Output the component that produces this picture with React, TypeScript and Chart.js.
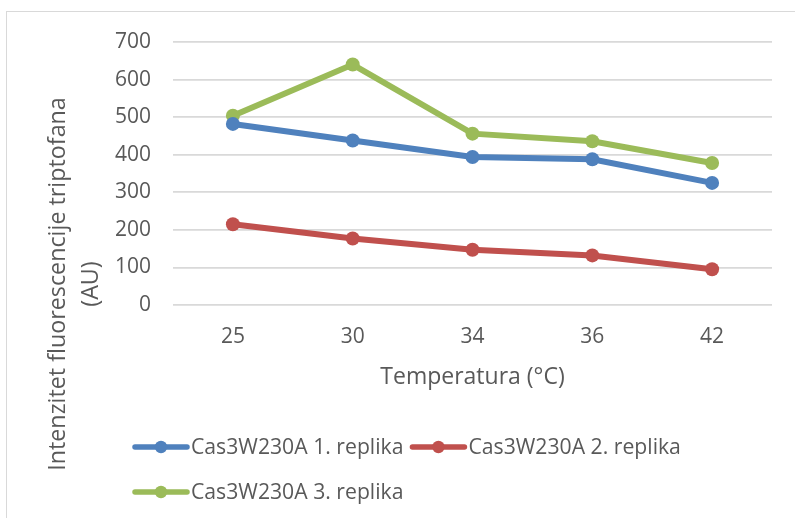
import React, { useEffect, useRef } from "react";
import { Chart, registerables } from "chart.js";

Chart.register(...registerables);

const categories = ["25", "30", "34", "36", "42"];
const seriesNames = [
  "Cas3W230A 1. replika",
  "Cas3W230A 2. replika",
  "Cas3W230A 3. replika",
];
const replika1 = [482, 438, 394, 388, 325];
const replika2 = [215, 177, 147, 132, 95];
const replika3 = [504, 640, 456, 436, 378];
const seriesColors = ["#4F81BD", "#C0504D", "#9BBB59"];
const yTitleLines = ["Intenzitet fluorescencije triptofana", "(AU)"];
const xTitle = "Temperatura (°C)";

const FONT = "'Open Sans', 'DejaVu Sans', sans-serif";
const TEXT = "#595959";

const yTitlePlugin = {
  id: "yTitle",
  afterDraw(chart: any) {
    const ctx = chart.ctx;
    ctx.save();
    ctx.fillStyle = TEXT;
    ctx.font = `23.3px ${FONT}`;
    ctx.textAlign = "center";
    ctx.textBaseline = "middle";
    ctx.translate(58, 284);
    ctx.rotate(-Math.PI / 2);
    yTitleLines.forEach((line, i) => ctx.fillText(line, 0, i * 33));
    ctx.restore();
  },
};

const legendPlugin = {
  id: "customLegend",
  afterDraw(chart: any) {
    const ctx = chart.ctx;
    ctx.save();
    ctx.font = `21.2px ${FONT}`;
    ctx.textBaseline = "middle";
    ctx.textAlign = "left";
    const startX = 133;
    const maxX = 700;
    let x = startX;
    let y = 447;
    chart.data.datasets.forEach((ds: any) => {
      const tw = ctx.measureText(ds.label).width;
      const itemW = 56 + 3 + tw;
      if (x !== startX && x + itemW > maxX) {
        x = startX;
        y += 45;
      }
      ctx.strokeStyle = ds.borderColor;
      ctx.lineWidth = 5.5;
      ctx.lineCap = "round";
      ctx.beginPath();
      ctx.moveTo(x + 2, y);
      ctx.lineTo(x + 54, y);
      ctx.stroke();
      ctx.fillStyle = ds.borderColor;
      ctx.beginPath();
      ctx.arc(x + 28, y, 6.2, 0, Math.PI * 2);
      ctx.fill();
      ctx.fillStyle = TEXT;
      ctx.fillText(ds.label, x + 58, y + 1);
      x += itemW + 6;
    });
    ctx.restore();
  },
};

export default function App() {
  const canvasRef = useRef<HTMLCanvasElement | null>(null);

  useEffect(() => {
    document.body.style.margin = "0";
    const canvas = canvasRef.current;
    if (!canvas) return;
    const data = [replika1, replika2, replika3];
    const chart = new Chart(canvas, {
      type: "line",
      data: {
        labels: categories,
        datasets: seriesNames.map((name, i) => ({
          label: name,
          data: data[i],
          borderColor: seriesColors[i],
          backgroundColor: seriesColors[i],
          pointBackgroundColor: seriesColors[i],
          pointBorderWidth: 0,
          pointRadius: 7,
          borderWidth: 6,
          tension: 0,
          fill: false,
        })),
      },
      options: {
        responsive: false,
        animation: false,
        devicePixelRatio: 1,
        layout: { padding: { left: 0, top: 42, right: 23, bottom: 127 } },
        plugins: {
          legend: { display: false },
          tooltip: { enabled: false },
        },
        scales: {
          x: {
            offset: true,
            grid: { display: false, drawTicks: false },
            border: { display: false },
            ticks: {
              color: TEXT,
              font: { family: FONT, size: 21 },
              padding: 19,
            },
            title: {
              display: true,
              text: xTitle,
              color: TEXT,
              font: { family: FONT, size: 23 },
              padding: { top: 0, bottom: 0 },
            },
            afterFit: (s: any) => {
              s.height = 86;
            },
          },
          y: {
            min: 0,
            max: 700,
            grid: { color: "#D9D9D9", lineWidth: 1.8, drawTicks: false },
            border: { display: false },
            ticks: {
              stepSize: 100,
              color: TEXT,
              font: { family: FONT, size: 21 },
              padding: 22,
            },
            afterFit: (s: any) => {
              s.width = 173;
            },
          },
        },
      },
      plugins: [yTitlePlugin, legendPlugin],
    });
    return () => chart.destroy();
  }, []);

  return (
    <div
      style={{
        position: "relative",
        width: 795,
        height: 518,
        overflow: "hidden",
        background: "#fff",
      }}
    >
      <div
        style={{
          position: "absolute",
          left: 6,
          top: 11,
          width: 900,
          height: 700,
          border: "1.5px solid #D9D9D9",
        }}
      />
      <canvas
        ref={canvasRef}
        width={795}
        height={518}
        style={{ position: "absolute", left: 0, top: 0, width: 795, height: 518 }}
      />
    </div>
  );
}
